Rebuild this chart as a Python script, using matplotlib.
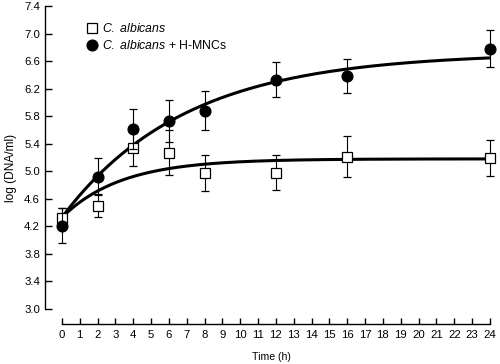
import numpy as np
import matplotlib
matplotlib.use("Agg")
import matplotlib.pyplot as plt
from matplotlib.lines import Line2D

plt.rcParams['font.family'] = ['Liberation Sans', 'DejaVu Sans']
plt.rcParams['mathtext.fontset'] = 'custom'
plt.rcParams['mathtext.it'] = 'Liberation Sans:italic'
plt.rcParams['mathtext.rm'] = 'Liberation Sans'

# Data
time_h = [0, 2, 4, 6, 8, 12, 16, 24]
ca_mean = [4.32, 4.50, 5.34, 5.27, 4.98, 4.98, 5.21, 5.19]
ca_err = [0.15, 0.17, 0.26, 0.33, 0.26, 0.25, 0.30, 0.26]
mnc_mean = [4.21, 4.92, 5.61, 5.73, 5.88, 6.33, 6.38, 6.78]
mnc_err = [0.25, 0.27, 0.29, 0.30, 0.28, 0.25, 0.25, 0.27]

# Fitted curve parameters (plateau, start, rate)
ca_fit = (5.18, 4.33, 0.30)
mnc_fit = (6.72, 4.33, 0.145)

x_ticks = list(range(0, 25))
y_ticks = [3.0, 3.4, 3.8, 4.2, 4.6, 5.0, 5.4, 5.8, 6.2, 6.6, 7.0, 7.4]

fig = plt.figure(figsize=(5.0, 3.64), dpi=100)
ax = fig.add_axes([0.09, 0.1511, 0.897, 0.8324])

tt = np.linspace(0, 24, 300)
for (A, B, k) in (ca_fit, mnc_fit):
    ax.plot(tt, A - (A - B) * np.exp(-k * tt), color='black', lw=2.2, zorder=2,
            solid_capstyle='butt')

ax.errorbar(time_h, ca_mean, yerr=ca_err, fmt='s', ms=7.2, mfc='white', mec='black',
            mew=0.9, ecolor='black', elinewidth=0.8, capsize=2.8, capthick=0.8,
            zorder=3, clip_on=False)
ax.errorbar(time_h, mnc_mean, yerr=mnc_err, fmt='o', ms=7.8, mfc='black', mec='black',
            mew=0.9, ecolor='black', elinewidth=0.8, capsize=2.8, capthick=0.8,
            zorder=4, clip_on=False)

ax.set_xlim(-0.95, 24.2)
ax.set_ylim(3.0, 7.4)
ax.set_xticks(x_ticks)
ax.set_xticklabels([str(v) for v in x_ticks])
ax.set_yticks(y_ticks)
ax.set_yticklabels([f"{v:.1f}" for v in y_ticks])

for s in ('top', 'right'):
    ax.spines[s].set_visible(False)
ax.spines['left'].set_linewidth(1.0)
ax.spines['bottom'].set_linewidth(1.0)
ax.spines['bottom'].set_position(('outward', 11))
ax.spines['bottom'].set_bounds(0, 24)

ax.tick_params(axis='y', direction='in', length=5, width=1.0, pad=3.6, labelsize=8.2)
ax.tick_params(axis='x', direction='in', length=4.3, width=1.0, pad=4, labelsize=8.2)

fig.text(11/500, 1 - 168/364, 'log (DNA/ml)', rotation=90, ha='center', va='center',
         fontsize=8.6)
fig.text(271/500, 1 - 357/364, 'Time (h)', ha='center', va='center', fontsize=7.6)

handles = [
    Line2D([], [], marker='s', ls='none', ms=7.2, mfc='white', mec='black', mew=0.9),
    Line2D([], [], marker='o', ls='none', ms=7.8, mfc='black', mec='black', mew=0.9),
]
labels = [r'$\it{C.\ albicans}$', r'$\it{C.\ albicans}$ + H-MNCs']
leg = ax.legend(handles, labels, loc='upper left', bbox_to_anchor=(87/500, 1 - 22/364),
                bbox_transform=fig.transFigure, frameon=False, fontsize=8.8,
                handlelength=0.8, handletextpad=0.4, labelspacing=0.35,
                borderpad=0, borderaxespad=0)

fig.savefig('out.png', dpi=100)
